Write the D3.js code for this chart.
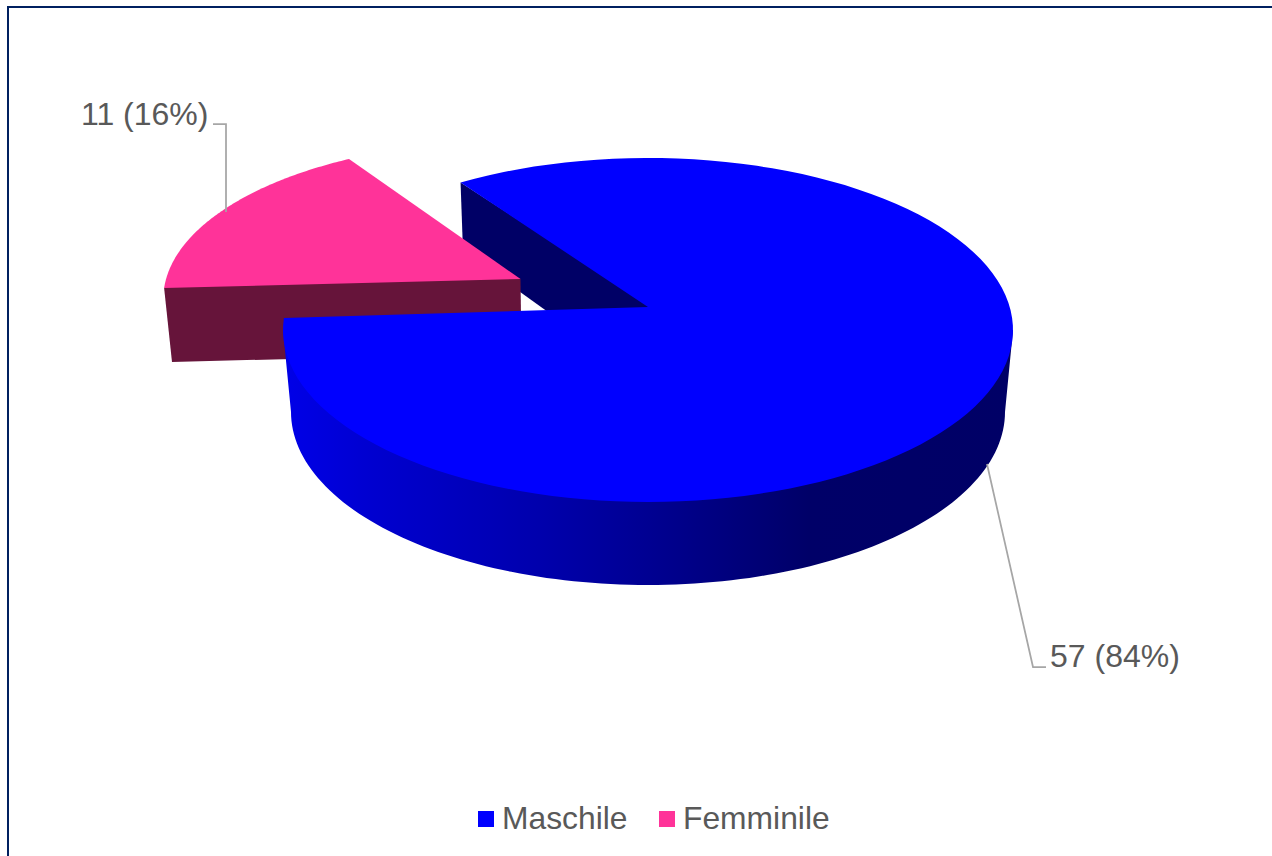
<!DOCTYPE html>
<html><head><meta charset="utf-8">
<script src="https://cdn.jsdelivr.net/npm/d3@7"></script>
<style>html,body{margin:0;padding:0;background:#fff;overflow:hidden}svg{display:block}text{font-family:"Liberation Sans",Arial,sans-serif;fill:#595959;opacity:.999}</style>
</head><body><div id="chart"></div>
<script>
const categories = ["Maschile", "Femminile"];
const values = [57, 11];
const colors = ["#0000ff", "#ff3399"];

const W = 1272, H = 856;
const rad = d => d * Math.PI / 180;
const svg = d3.select("#chart").append("svg").attr("width", W).attr("height", H);

svg.append("rect").attr("x", 8).attr("y", 7).attr("width", W + 20).attr("height", H + 20)
  .attr("fill", "#fff").attr("stroke", "#002060").attr("stroke-width", 2);

// d3.pie gives the true angles; the perspective of the view stretches them slightly
const startDeg = -30.9, perspective = 1.0103;
const pie = d3.pie().value(d => d).sort(null).startAngle(0).endAngle(2 * Math.PI);
const view = a => rad(startDeg) + a * perspective;
const arcs = pie(values);
const mainA = {startAngle: view(arcs[0].startAngle), endAngle: view(arcs[0].endAngle)};
const sliceA = {startAngle: view(arcs[1].startAngle), endAngle: view(arcs[1].endAngle)};

const topE = {cx: 648, cy: 330, rx: 365, ry: 172};
const topInner = {cx: 648, cy: 330, rx: 362, ry: 168};
const botE = {cx: 648, cy: 412, rx: 357, ry: 173};
const pinkE = {cx: 505.3, cy: 299, rx: 342, ry: 157.4};
const at = (e, a) => [e.cx + e.rx * Math.sin(a), e.cy - e.ry * Math.cos(a)];
const sample = (e, a0, a1) => d3.range(0, 121).map(i => at(e, a0 + (a1 - a0) * i / 120));
const line = d3.line();
const apex = [648, 307], apexLow = [648, 384], cutLow = [463, 251];
const pinkApex = [520.5, 279], pinkApexLow = [521.5, 353], pinkLeftLow = [172, 362];

const defs = svg.append("defs");
const grad = defs.append("linearGradient").attr("id", "wall")
  .attr("gradientUnits", "userSpaceOnUse").attr("x1", 283).attr("x2", 1013).attr("y1", 0).attr("y2", 0);
[[0, "#0000e8"], [0.12, "#0000d0"], [0.35, "#0000ad"], [0.5, "#000092"], [0.72, "#000068"], [1, "#000066"]]
  .forEach(([o, c]) => grad.append("stop").attr("offset", o).attr("stop-color", c));

// inner cut wall of the big slice (its upper edge runs under the top face)
svg.append("path").attr("fill", "#000066")
  .attr("d", line([at(topE, mainA.startAngle), [apex[0], apex[1] - 3], apexLow, cutLow]) + "Z");

// exploded slice
const pinkLeft = at(pinkE, sliceA.startAngle);
svg.append("path").attr("fill", "#66143a")
  .attr("d", line([[pinkLeft[0] + 3, pinkLeft[1] - 2], [pinkApex[0] - 5, pinkApex[1] - 3], pinkApex, pinkApexLow, pinkLeftLow, pinkLeft]) + "Z");
svg.append("path").attr("fill", colors[1])
  .attr("d", line([pinkApex, ...sample(pinkE, sliceA.startAngle, sliceA.endAngle)]) + "Z");

// outer wall of the big slice (its upper edge runs under the top face)
const right = rad(90), left = rad(270);
svg.append("path").attr("fill", "url(#wall)")
  .attr("d", line([at(topE, right), ...sample(topInner, right, left), at(topE, left), ...sample(botE, left, right)]) + "Z");
svg.append("path").attr("fill", colors[0])
  .attr("d", line([apex, ...sample(topE, mainA.startAngle, mainA.endAngle)]) + "Z");

// leader lines
[[[213, 124], [226, 124], [226, 212]], [[987, 464], [1033, 667], [1046, 667]]].forEach(p =>
  svg.append("path").attr("d", line(p)).attr("fill", "none").attr("stroke", "#a6a6a6").attr("stroke-width", 1.75));

// labels
const total = d3.sum(values);
const pct = v => `${v} (${Math.round(v / total * 100)}%)`;
svg.append("text").attr("x", 81).attr("y", 125).attr("font-size", 32).text(pct(values[1]));
svg.append("text").attr("x", 1050).attr("y", 667).attr("font-size", 32).text(pct(values[0]));

// legend
const legendX = [478, 659];
categories.forEach((c, i) => {
  svg.append("rect").attr("x", legendX[i]).attr("y", 811).attr("width", 16).attr("height", 16).attr("fill", colors[i]);
  svg.append("text").attr("x", legendX[i] + 24).attr("y", 829).attr("font-size", 31.8).text(c);
});
</script></body></html>
